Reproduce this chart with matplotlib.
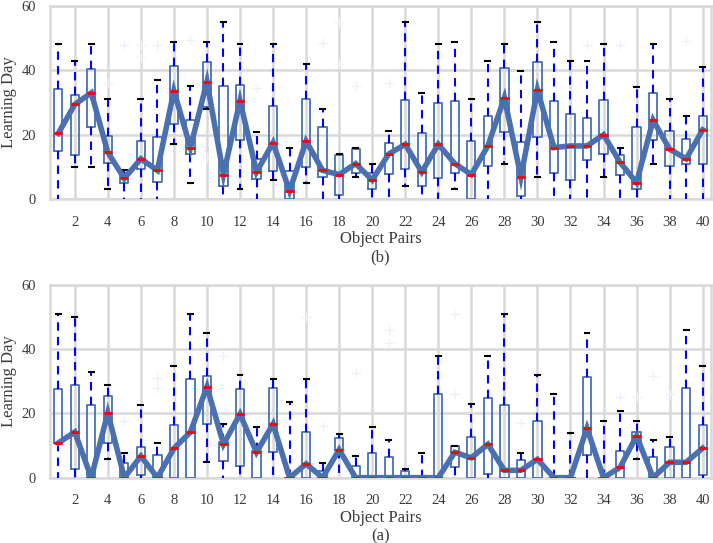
import numpy as np
import matplotlib
matplotlib.use('Agg')
import matplotlib.pyplot as plt

# Object pair index
PAIRS = list(range(1, 41))

# Panel (b): whisker low, Q1, median, Q3, whisker high
LOW_B = [0, 9.9, 9.9, 3.0, 0, 0, 0, 17.0, 5.0, 28.0,
         0, 3.0, 0, 5.9, 0, 5.0, 0, 0, 6.9, 0,
         0, 4.0, 0, 0, 3.0, 0, 0, 10.9, 0, 6.9,
         0, 0, 0, 6.9, 0, 0, 10.9, 0, 0, 0]
Q1_B = [15.0, 13.7, 22.5, 11.1, 5.1, 9.2, 5.2, 23.2, 13.9, 28.7,
        4.2, 18.4, 6.1, 8.6, 0, 10.1, 6.9, 1.1, 8.0, 3.2,
        7.8, 9.2, 4.2, 6.4, 8.2, 0, 10.3, 20.7, 0.9, 19.3,
        8.0, 5.9, 12.2, 14.0, 7.5, 3.2, 18.3, 10.3, 11.0, 11.0]
MED_B = [20.4, 29.4, 33.0, 14.5, 6.4, 12.5, 8.9, 33.6, 16.0, 36.5,
         7.6, 30.6, 8.4, 17.5, 2.5, 18.0, 8.9, 7.6, 11.0, 5.9,
         14.0, 17.0, 8.4, 17.0, 11.0, 7.6, 16.5, 31.5, 6.9, 33.9,
         16.0, 16.5, 16.5, 20.0, 11.4, 5.1, 24.5, 15.5, 12.5, 21.5]
Q3_B = [34.3, 32.4, 40.5, 19.7, 8.0, 17.9, 19.2, 41.5, 24.7, 42.5,
        35.2, 35.4, 12.3, 28.8, 8.6, 31.0, 22.3, 13.6, 15.4, 8.0,
        17.5, 30.8, 20.4, 29.9, 30.6, 17.9, 25.7, 40.7, 17.6, 42.5,
        30.5, 26.4, 25.2, 30.8, 13.7, 22.4, 33.0, 21.1, 18.8, 25.9]
HIGH_B = [48.1, 43.0, 48.1, 31.0, 9.0, 31.0, 36.9, 48.9, 35.0, 48.9,
          55.0, 48.1, 20.9, 48.1, 16.0, 42.1, 28.1, 13.9, 16.0, 10.9,
          21.0, 55.0, 33.0, 48.1, 48.9, 31.0, 42.9, 48.1, 39.9, 55.0,
          48.9, 42.9, 42.9, 48.1, 16.0, 34.9, 48.1, 31.0, 25.9, 41.0]
FLIERS_B = {4: [36], 5: [48], 6: [48, 44.3], 7: [48], 9: [49.5], 10: [13],
            13: [34.4], 17: [48.4], 18: [55, 42], 19: [35], 21: [36],
            33: [48], 35: [48], 39: [49]}

# Panel (a)
LOW_A = [0, 0, 0, 5.8, 0, 0, 0, 0, 0, 4.8,
         0, 0, 0, 0, 0, 0, 0, 0, 0, 0,
         0, 0, 0, 0, 0, 0, 0, 0, 0, 0,
         0, 0, 0, 0, 0, 5.7, 0, 0, 0, 0]
Q1_A = [10.7, 2.8, 0, 10.8, 0, 0.7, 0, 0, 0, 16.8,
        5.1, 3.5, 0, 8.1, 0, 0, 0, 8.6, 0, 0,
        0, 0, 0, 0, 3.2, 0, 1.3, 0, 0, 0,
        0, 0, 7.1, 0, 0, 10.7, 0, 0, 0, 0.7]
MED_A = [10.8, 14.2, 0, 20.2, 0, 6.7, 0, 9.1, 14.2, 28.3,
         10.4, 19.8, 7.9, 16.7, 0, 4.3, 0, 8.7, 0, 0,
         0, 0, 0, 0, 7.9, 6.2, 10.4, 2.3, 2.3, 5.7,
         0, 0, 15.4, 0, 3.2, 13.0, 0, 4.8, 4.8, 9.2]
Q3_A = [27.6, 28.9, 22.7, 25.3, 4.7, 9.7, 7.1, 16.5, 30.8, 31.6,
        11.0, 27.6, 8.3, 27.9, 0, 14.3, 2.0, 12.3, 3.6, 7.7,
        6.5, 2.0, 0, 25.9, 9.8, 12.8, 24.9, 22.6, 5.5, 17.8,
        0, 0, 31.2, 0, 8.3, 14.3, 6.3, 9.4, 27.9, 16.3]
HIGH_A = [51.1, 49.9, 32.8, 28.9, 7.7, 22.7, 10.7, 34.9, 51.0, 45.0,
          16.7, 32.0, 15.9, 30.8, 23.7, 30.8, 4.7, 13.7, 6.9, 15.9,
          11.7, 2.7, 7.8, 37.9, 9.8, 22.8, 37.9, 51.1, 7.8, 31.9,
          25.9, 13.8, 45.0, 17.8, 20.9, 17.8, 11.7, 12.8, 45.9, 34.9]
FLIERS_A = {5: [17.5], 7: [31, 28], 11: [38], 16: [50], 17: [16],
            19: [32.5], 21: [46, 42], 25: [51, 26], 29: [17], 35: [25],
            36: [25], 37: [31.7], 38: [26]}

X_TICKS = list(range(2, 41, 2))
Y_TICKS = [0, 20, 40, 60]

BOX_BLUE = '#4a70b0'
GRID_GREY = '#d9d9d9'
TEXT_GREY = '#3c3c3c'

plt.rcParams['font.family'] = ['Liberation Serif', 'DejaVu Serif']


def draw_panel(axis, lows, q1s, meds, q3s, highs, fliers, tag):
    """Draws one box plot panel with the medians joined by a thick line"""
    stats = []
    for i, pair in enumerate(PAIRS):
        stats.append({'whislo': lows[i], 'q1': q1s[i], 'med': meds[i],
                      'q3': q3s[i], 'whishi': highs[i],
                      'fliers': fliers.get(pair, [])})
    parts = axis.bxp(stats, positions=PAIRS, widths=0.5, showfliers=True,
                     boxprops=dict(color=BOX_BLUE, linewidth=1.3),
                     whiskerprops=dict(color='#0000ff', linewidth=1.5,
                                       linestyle=(0, (4, 3))),
                     capprops=dict(color='black', linewidth=1.5),
                     capwidths=0.3,
                     medianprops=dict(color='#ff0000', linewidth=2,
                                      zorder=5),
                     flierprops=dict(marker='+', markeredgecolor='#eef1f9',
                                     markersize=7, linestyle='none'),
                     manage_ticks=False, zorder=3)
    # caps sitting on the zero line are not seen in the original
    for cap in parts['caps']:
        if np.allclose(cap.get_ydata(), 0):
            cap.set_visible(False)
    axis.plot(PAIRS, meds, color=BOX_BLUE, linewidth=4, zorder=4,
              solid_joinstyle='miter')
    axis.set_xlim(0.5, 40.5)
    axis.set_ylim(0, 60)
    axis.set_xticks(X_TICKS)
    axis.set_yticks(Y_TICKS)
    axis.grid(True, color=GRID_GREY, linewidth=1.8, zorder=0)
    axis.set_axisbelow(True)
    for spine in axis.spines.values():
        spine.set_color(GRID_GREY)
        spine.set_linewidth(1.8)
    axis.tick_params(length=0, labelsize=10.5, labelcolor=TEXT_GREY)
    axis.tick_params(axis='x', pad=12)
    axis.tick_params(axis='y', pad=10)
    axis.set_xlabel('Object Pairs\n' + tag, fontsize=12, color=TEXT_GREY,
                    labelpad=2, linespacing=1.15)
    axis.set_ylabel('Learning Day', fontsize=12, color=TEXT_GREY,
                    labelpad=3)


FIGURE = plt.figure(figsize=(7.13, 5.43), dpi=100)

TOP_PLOT = FIGURE.add_axes([0.0701, 0.6335, 0.927, 0.3554])
draw_panel(TOP_PLOT, LOW_B, Q1_B, MED_B, Q3_B, HIGH_B, FLIERS_B, '(b)')

BOTTOM_PLOT = FIGURE.add_axes([0.0701, 0.1203, 0.927, 0.3549])
draw_panel(BOTTOM_PLOT, LOW_A, Q1_A, MED_A, Q3_A, HIGH_A, FLIERS_A, '(a)')

plt.savefig('out.png', dpi=100)
